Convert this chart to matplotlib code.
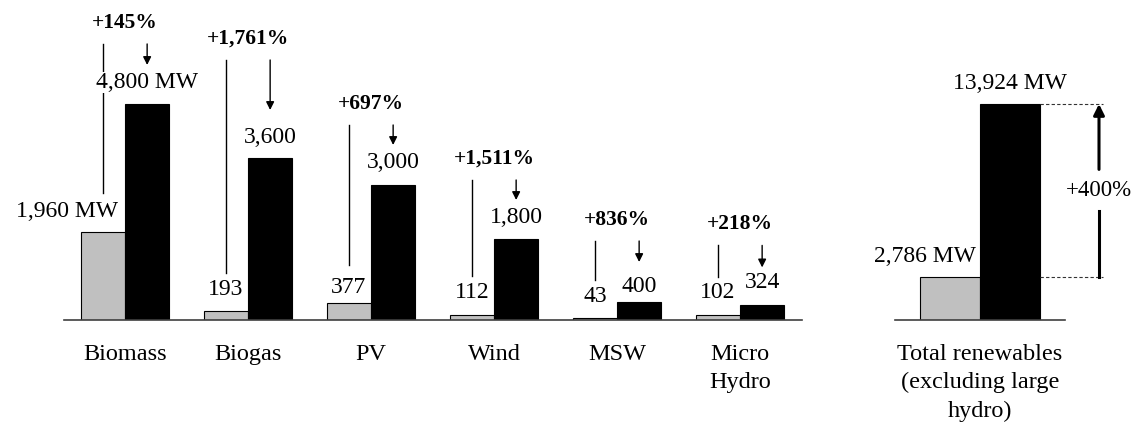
import matplotlib.pyplot as plt
import numpy as np

plt.rcParams['font.family'] = ['Liberation Serif', 'DejaVu Serif']

# data
categories = ['Biomass', 'Biogas', 'PV', 'Wind', 'MSW', 'Micro\nHydro']
cap_before = [1960, 193, 377, 112, 43, 102]   # MW
cap_after = [4800, 3600, 3000, 1800, 400, 324]
growth = ['+145%', '+1,761%', '+697%', '+1,511%', '+836%', '+218%']

total_label = 'Total renewables\n(excluding large\nhydro)'
total_before = 2786
total_after = 13924
total_growth = '+400%'

# layout (pixels above bar tops)
before_lab_off = [15, 16, 10, 17, 16, 17]
after_lab_off = [16, 15, 17, 16, 10, 17]
arrow_top_off = [60, 98, 60, 59, 61, 60]
arrow_tip_off = [39, 48, 40, 39, 40, 38]
line_bot_off = 38.5
growth_off = 16

GRAY = '#c0c0c0'
W_PX, H_PX = 1140, 426
fig = plt.figure(figsize=(W_PX / 100, H_PX / 100), dpi=100)
base = 106 / H_PX
axL = fig.add_axes([63.5 / W_PX, base, 738 / W_PX, 320 / H_PX])
axR = fig.add_axes([895 / W_PX, base, 170 / W_PX, 320 / H_PX])

for ax in (axL, axR):
    for s in ['top', 'right', 'left']:
        ax.spines[s].set_visible(False)
    ax.spines['bottom'].set_color('#404040')
    ax.spines['bottom'].set_linewidth(1.2)
    ax.set_yticks([])
    ax.tick_params(axis='x', length=0, pad=17, labelsize=17.5)
    ax.patch.set_visible(False)


def up(ax, y, px):
    # y (data) moved px pixels upward
    return y + px * ax.get_ylim()[1] / ax.bbox.height


# ---- left panel
x = np.arange(len(categories))
w = 0.36
axL.bar(x - w / 2, cap_before, w, color=GRAY, edgecolor='black', linewidth=0.8, zorder=2)
axL.bar(x + w / 2, cap_after, w, color='black', edgecolor='black', linewidth=0.8, zorder=2)
axL.set_xlim(-0.5, len(categories) - 0.5)
axL.set_ylim(0, 7110)
axL.set_xticks(x, categories)

for i in range(len(categories)):
    b, a = cap_before[i], cap_after[i]
    lab_b = f'{b:,}' + (' MW' if i == 0 else '')
    lab_a = f'{a:,}' + (' MW' if i == 0 else '')
    if i == 0:
        axL.annotate(lab_b, xy=(x[i], b), xytext=(-7, before_lab_off[i]),
                     textcoords='offset pixels', ha='right', va='baseline', fontsize=17)
    else:
        axL.annotate(lab_b, xy=(x[i] - w / 2, b), xytext=(0, before_lab_off[i]),
                     textcoords='offset pixels', ha='center', va='baseline', fontsize=17)
    axL.annotate(lab_a, xy=(x[i] + w / 2, a), xytext=(0, after_lab_off[i]),
                 textcoords='offset pixels', ha='center', va='baseline', fontsize=17,
                 bbox=dict(facecolor='white', edgecolor='none', pad=0), zorder=4)
    top = up(axL, a, arrow_top_off[i])
    # vertical line above the grey bar
    axL.plot([x[i] - w / 2] * 2, [up(axL, b, line_bot_off), top],
             color='black', lw=1.0, zorder=3, clip_on=False)
    # arrow down to black bar
    axL.annotate('', xy=(x[i] + w / 2, up(axL, a, arrow_tip_off[i])),
                 xytext=(x[i] + w / 2, top),
                 arrowprops=dict(arrowstyle='-|>', lw=1.0, mutation_scale=12,
                                 color='black', shrinkA=0, shrinkB=0))
    axL.text(x[i], up(axL, top, growth_off), growth[i], ha='center', va='baseline',
             fontsize=15.5, fontweight='bold', clip_on=False)

# ---- right panel
wr = 0.353
axR.bar(-wr / 2, total_before, wr, color=GRAY, edgecolor='black', linewidth=0.8, zorder=2)
axR.bar(wr / 2, total_after, wr, color='black', edgecolor='black', linewidth=0.8, zorder=2)
axR.set_xlim(-0.5, 0.5)
axR.set_ylim(0, 20630)
axR.set_xticks([0], [total_label])

for ax in (axL, axR):
    for lbl in ax.get_xticklabels():
        lbl.set_linespacing(1.45)

axR.annotate(f'{total_before:,} MW', xy=(0, total_before), xytext=(-4, 15),
             textcoords='offset pixels', ha='right', va='baseline', fontsize=17)
axR.annotate(f'{total_after:,} MW', xy=(wr / 2, total_after), xytext=(0, 15),
             textcoords='offset pixels', ha='center', va='baseline', fontsize=17)

xa = 0.70
for yv in (total_before, total_after):
    axR.plot([wr, 0.725], [yv, yv], color='#333333', lw=0.8,
             linestyle=(0, (3, 2)), clip_on=False)

mid = (total_before + total_after) / 2
gap = up(axR, 0, 21)
axR.plot([xa, xa], [total_before, mid - gap], color='black', lw=2.2, clip_on=False)
axR.annotate('', xy=(xa, total_after), xytext=(xa, mid + gap),
             arrowprops=dict(arrowstyle='-|>', lw=2.2, mutation_scale=16,
                             color='black', shrinkA=0, shrinkB=0),
             annotation_clip=False)
axR.text(xa, mid, total_growth, ha='center', va='center', fontsize=16.5,
         clip_on=False)

fig.savefig('out.png', dpi=100)
